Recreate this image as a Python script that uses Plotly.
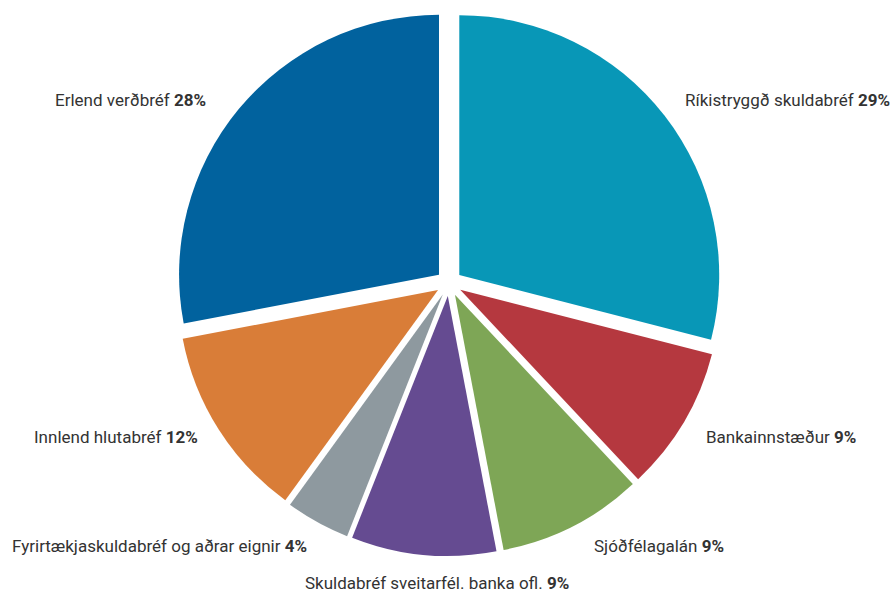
import plotly.graph_objects as go

# Asset allocation shares (%)
labels = [
    "Ríkistryggð skuldabréf",
    "Bankainnstæður",
    "Sjóðfélagalán",
    "Skuldabréf sveitarfél. banka ofl.",
    "Fyrirtækjaskuldabréf og aðrar eignir",
    "Innlend hlutabréf",
    "Erlend verðbréf",
]
shares = [29, 9, 9, 9, 4, 12, 28]
colors = ["#0897b7", "#b5383f", "#7ea656", "#654b91", "#8e999f", "#d97d38", "#01629e"]

# Label placement in paper coordinates: (x, y, xanchor)
label_pos = [
    (0.997, 0.832, "right"),
    (0.787, 0.268, "left"),
    (0.662, 0.085, "left"),
    (0.338, 0.023, "left"),
    (0.345, 0.085, "right"),
    (0.224, 0.268, "right"),
    (0.232, 0.832, "right"),
]

FONT = "Roboto, Liberation Sans, sans-serif"

fig = go.Figure(
    go.Pie(
        labels=labels,
        values=shares,
        sort=False,
        direction="clockwise",
        rotation=0,
        pull=[0.05] * len(shares),
        marker=dict(colors=colors, line=dict(width=0)),
        textinfo="none",
        hoverinfo="label+percent",
        domain=dict(x=[0.1665, 0.8369], y=[0.0687, 0.983]),
        showlegend=False,
    )
)

for lab, val, (x, y, xa) in zip(labels, shares, label_pos):
    fig.add_annotation(
        x=x, y=y, xref="paper", yref="paper",
        xanchor=xa, yanchor="middle",
        text=f"{lab} <b>{val}%</b>",
        showarrow=False,
        font=dict(family=FONT, size=17, color="#333333"),
    )

fig.update_layout(
    width=895, height=597,
    margin=dict(l=0, r=0, t=0, b=0),
    paper_bgcolor="white",
    plot_bgcolor="white",
)

fig.write_html("out.html")
